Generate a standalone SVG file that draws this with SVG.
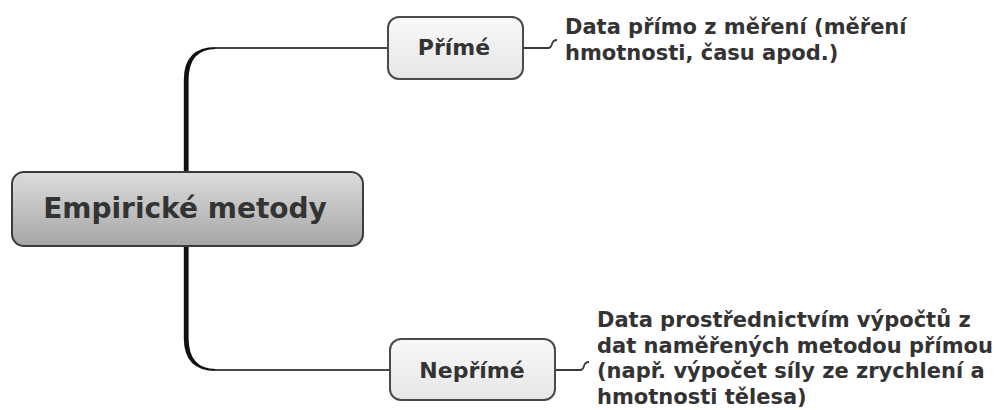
<svg xmlns="http://www.w3.org/2000/svg" width="995" height="410" viewBox="0 0 995 410">
  <defs>
    <linearGradient id="rootFill" x1="0" y1="0" x2="0" y2="1">
      <stop offset="0" stop-color="#dcdcdc"/>
      <stop offset="1" stop-color="#a6a6a6"/>
    </linearGradient>
    <linearGradient id="childFill" x1="0" y1="0" x2="0" y2="1">
      <stop offset="0" stop-color="#f8f8f8"/>
      <stop offset="1" stop-color="#e6e6e6"/>
    </linearGradient>
  </defs>
  <style>
    .root { fill: url(#rootFill); stroke: #3c3c3c; stroke-width: 2; }
    .child { fill: url(#childFill); stroke: #4a4a4a; stroke-width: 2; }
    .label { font-family: "DejaVu Sans", Verdana, sans-serif; font-weight: bold; fill: #333333; }
    .rootText { font-size: 28px; text-anchor: middle; }
    .childText { font-size: 22px; text-anchor: middle; }
    .note { font-size: 21px; }
    .branch { fill: none; stroke: #4a4a4a; stroke-width: 2; }
    .trunk { fill: #111111; }
    .hook { fill: none; stroke: #3a3a3a; stroke-width: 1.8; }
  </style>

  <g id="connectors">
    <!-- upper branch: thick trunk tapering into the curve -->
    <path class="trunk" d="M183.8,172 L183.8,80 Q183.8,47 216,47 L216,49 Q188.6,49 188.6,80 L188.6,172 Z"/>
    <line class="branch" x1="215" y1="48" x2="389" y2="48"/>
    <!-- lower branch -->
    <path class="trunk" d="M183.8,246 L183.8,338 Q183.8,371 216,371 L216,369 Q188.6,369 188.6,338 L188.6,246 Z"/>
    <line class="branch" x1="215" y1="370" x2="391" y2="370"/>
    <!-- leaders to the notes -->
    <path class="hook" d="M523,48 L548,48 Q551,48 552,44 Q553,40 557,40"/>
    <path class="hook" d="M555,370 L580,370 Q583,370 584,366 Q585,362 589,362"/>
  </g>

  <g id="root">
    <rect class="root" x="12" y="172" width="351" height="74" rx="12" ry="12"/>
    <text class="label rootText" x="185" y="218">Empirické metody</text>
  </g>

  <g id="prime">
    <rect class="child" x="388" y="17" width="135" height="62" rx="11" ry="11"/>
    <text class="label childText" x="454" y="55">Přímé</text>
  </g>

  <g id="nonprime">
    <rect class="child" x="390" y="339" width="165" height="61" rx="11" ry="11"/>
    <text class="label childText" x="472" y="378">Nepřímé</text>
  </g>

  <g id="prime-note">
    <text class="label note" x="565" y="34">Data přímo z měření (měření</text>
    <text class="label note" x="565" y="60">hmotnosti, času apod.)</text>
  </g>

  <g id="nonprime-note">
    <text class="label note" x="597" y="327">Data prostřednictvím výpočtů z</text>
    <text class="label note" x="597" y="352.5">dat naměřených metodou přímou</text>
    <text class="label note" x="597" y="378">(např. výpočet síly ze zrychlení a</text>
    <text class="label note" x="597" y="403.5">hmotnosti tělesa)</text>
  </g>
</svg>
